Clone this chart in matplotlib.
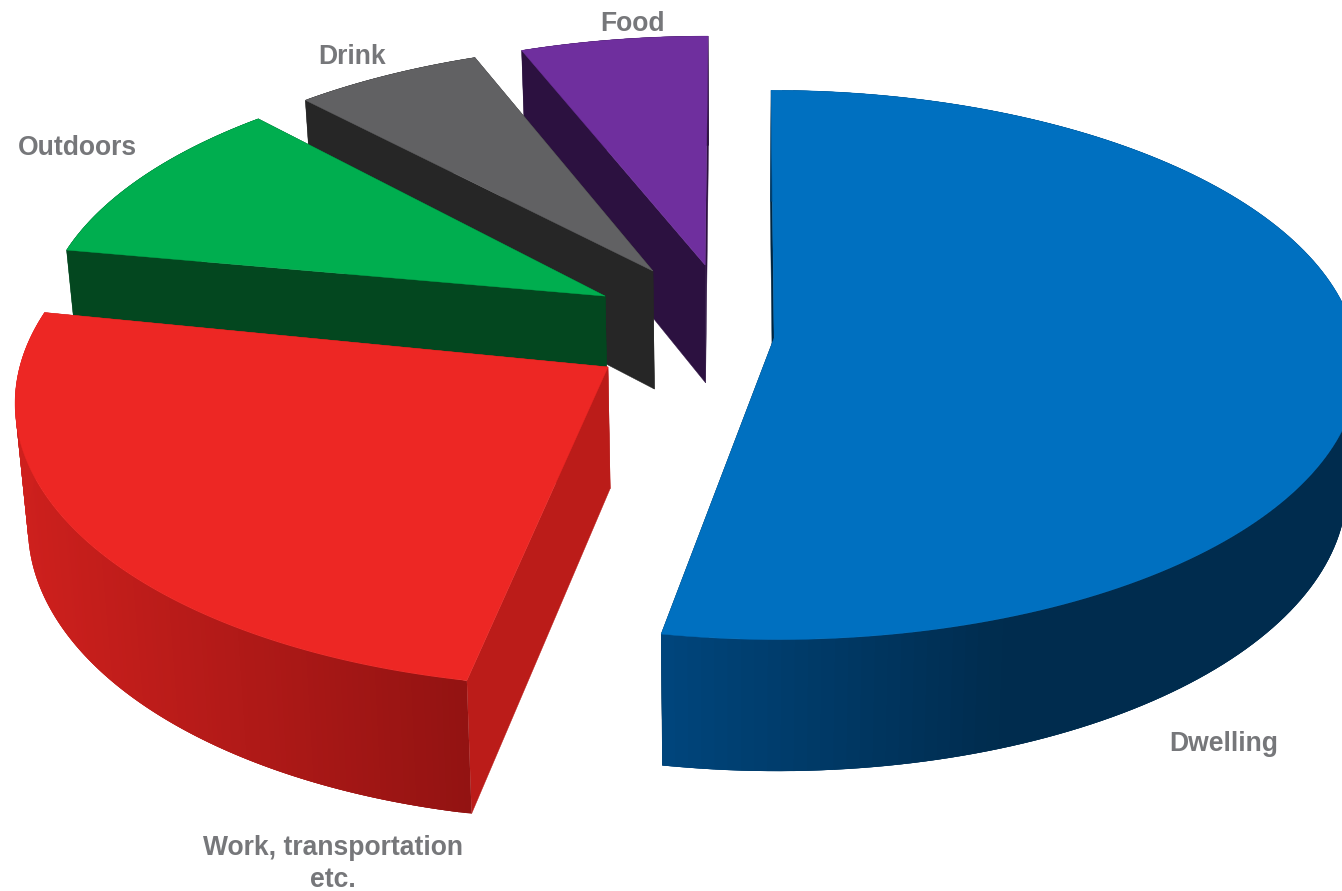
import numpy as np
import matplotlib
matplotlib.use("Agg")
import matplotlib.pyplot as plt
from matplotlib.collections import PolyCollection
from matplotlib.colors import LinearSegmentedColormap
from matplotlib.patches import Polygon

# Spending shares, clockwise from twelve o'clock
categories = ["Dwelling", "Work, transportation\netc.", "Outdoors", "Drink", "Food"]
shares = [52.9, 25.0, 10.2, 6.0, 5.9]

top_colors = ["#0070C0", "#ED2724", "#00AE4F", "#616163", "#6F2F9E"]
cut_colors = ["#00253F", "#BB1C19", "#03471F", "#262626", "#2C1140"]
# Wall shading from the left end of a slice's arc to its right end
wall_colors = [
    [(0.0, "#00467D"), (0.5, "#002C4E"), (1.0, "#002C4E")],
    [(0.0, "#CE201D"), (1.0, "#931312")],
    [(0.0, "#03471F"), (1.0, "#03471F")],
    [(0.0, "#262626"), (1.0, "#262626")],
    [(0.0, "#2C1140"), (1.0, "#2C1140")],
]
# Pull-out of each slice in pie radii (sideways, towards viewer), radius factors, small turn in degrees
explode_xy = [(0.06, 0.0), (-0.230, 0.1055), (-0.241, -0.1564), (-0.157, -0.2523), (-0.063, -0.2754)]
radius_x = [1.023, 1.025, 1.0, 1.0, 1.01]
radius_y = [1.0, 1.035, 0.98, 0.96, 0.97]
turn_deg = [0.0, 0.7, 0.0, 0.0, 0.0]
label_xy = [(1224, 744), (333, 864), (77, 148), (352, 57), (633, 24)]

VX, VY = 740.0, 338.0   # projection origin on the canvas
RX, RY = 568.0, 272.0   # pie radius across and along the view
PERSP = 0.098           # foreshortening strength
THICK_X_ORIGIN, THICK_X = 730.0, 0.018
THICK_A, THICK_B = 108.0, 0.037


def project(x, y):
    w = 1.0 - PERSP * y
    return VX + RX * x / w, VY + RY * y / w


def drop(px, py):
    """Canvas position of the underside below a point on the upper face."""
    return px + (THICK_X_ORIGIN - px) * THICK_X, py + THICK_A + THICK_B * py


fig = plt.figure(figsize=(13.42, 8.91), dpi=100, facecolor="white")
ax = fig.add_axes([0, 0, 1, 1])
ax.set_xlim(0, 1342)
ax.set_ylim(891, 0)
ax.axis("off")

edges = np.concatenate([[0], np.cumsum(shares)]) / np.sum(shares) * 2 * np.pi
slices = []
for i in range(len(shares)):
    turn = np.radians(turn_deg[i])
    theta = np.linspace(edges[i] + turn, edges[i + 1] + turn, 160)
    ox, oy = explode_xy[i]
    apex = np.array(project(ox, oy))
    arc = np.column_stack(project(ox + radius_x[i] * np.sin(theta), oy - radius_y[i] * np.cos(theta)))
    slices.append((apex, arc))

# Paint from the far slice to the near ones so that nearer solids overlap
for i in [4, 3, 2, 1, 0]:
    apex, arc = slices[i]
    apex_low = np.array(drop(*apex))
    arc_low = np.column_stack(drop(arc[:, 0], arc[:, 1]))

    for end in (-1, 0):
        cut = [apex, arc[end], arc_low[end], apex_low]
        ax.add_patch(Polygon(cut, closed=True, fc=cut_colors[i], ec=cut_colors[i], lw=0.3, zorder=i * -3 + 20))

    # Overlapping wall strips: each one is painted over the tail of the previous one
    cmap = LinearSegmentedColormap.from_list(f"wall{i}", wall_colors[i])
    last = len(arc) - 1
    quads = [[arc[k], arc[min(k + 3, last)], arc_low[min(k + 3, last)], arc_low[k]] for k in range(last)]
    across = (arc[:last, 0] - arc[:, 0].min()) / (arc[:, 0].max() - arc[:, 0].min())
    shade = cmap(across)
    ax.add_collection(PolyCollection(quads, facecolors=shade, edgecolors="none", linewidths=0,
                                     zorder=i * -3 + 21))

    face = np.vstack([apex, arc])
    ax.add_patch(Polygon(face, closed=True, fc=top_colors[i], ec=top_colors[i], lw=0.3, zorder=i * -3 + 22))

for name, (lx, ly) in zip(categories, label_xy):
    ax.text(lx, ly, name, ha="center", va="center", ma="center", color="#76777A", fontsize=19.1,
            fontweight="bold", family="Liberation Sans", linespacing=1.3, zorder=50)

fig.savefig("out.png", dpi=100)
